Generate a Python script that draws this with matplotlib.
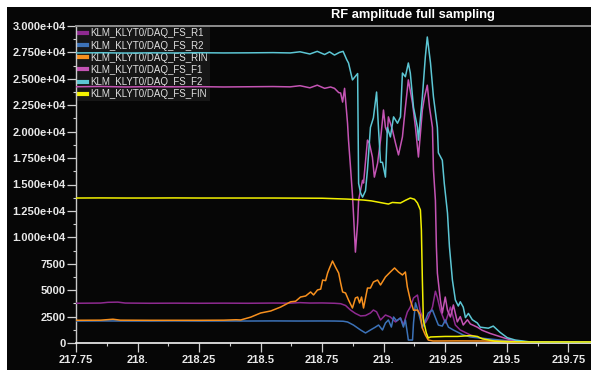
import matplotlib
matplotlib.use("Agg")
import matplotlib.pyplot as plt
from matplotlib.patches import Rectangle
from matplotlib.ticker import MultipleLocator, FuncFormatter

plt.rcParams['font.family'] = ['Liberation Sans', 'DejaVu Sans']

# ---- data (time in us, amplitude in counts) ----
t_r1 = [217.75, 217.85, 217.88, 217.92, 217.95, 218.05, 218.15, 218.25, 218.35, 218.45,
        218.55, 218.62, 218.66, 218.70, 218.75, 218.80, 218.825, 218.845, 218.865, 218.885,
        218.906, 218.926, 218.946, 218.958, 218.971, 218.987, 219.007, 219.027, 219.048, 219.068,
        219.080, 219.096, 219.108, 219.121, 219.137, 219.149, 219.169, 219.181, 219.198, 219.210,
        219.218, 219.230, 219.250, 219.271, 219.291, 219.311, 219.352, 219.392, 219.433, 219.473,
        219.55, 219.65, 219.84]
v_r1 = [3760, 3780, 3850, 3870, 3780, 3760, 3770, 3760, 3770, 3760,
        3780, 3770, 3820, 3780, 3790, 3760, 3720, 3550, 3120, 2800,
        2560, 2600, 2840, 3120, 2950, 2180, 2650, 2460, 1990, 2370,
        1700, 2930, 3400, 4260, 4540, 2930, 1900, 2400, 3400, 4900,
        4300, 3100, 1900, 3400, 1700, 1230, 760, 470, 300, 190,
        100, 80, 80]

t_r2 = [217.75, 217.85, 217.95, 218.05, 218.15, 218.25, 218.35, 218.45, 218.55, 218.65,
        218.75, 218.80, 218.835, 218.853, 218.877, 218.906, 218.926, 218.946, 218.966, 218.979,
        218.995, 219.007, 219.019, 219.031, 219.040, 219.052, 219.068, 219.080, 219.088, 219.096,
        219.100, 219.117, 219.121, 219.129, 219.141, 219.149, 219.157, 219.165, 219.181, 219.198,
        219.210, 219.222, 219.238, 219.250, 219.263, 219.283, 219.323, 219.352, 219.392, 219.473,
        219.55, 219.65, 219.84]
v_r2 = [2080, 2090, 2080, 2080, 2090, 2080, 2085, 2080, 2090, 2080,
        2085, 2080, 2060, 1990, 1700, 1230, 950, 1230, 1500, 1700,
        1230, 1890, 2180, 1510, 2460, 2100, 2370, 1510, 2180, 950,
        280, 280, 1900, 3800, 2900, 2180, 1420, 1900, 2840, 3120,
        2400, 1700, 1600, 2180, 1500, 1230, 760, 570, 470, 280,
        120, 80, 80]

t_rin = [217.75, 217.85, 217.90, 217.93, 218.05, 218.15, 218.25, 218.35, 218.40, 218.419,
         218.460, 218.500, 218.541, 218.581, 218.622, 218.642, 218.662, 218.683, 218.703, 218.715,
         218.731, 218.744, 218.752, 218.764, 218.772, 218.780, 218.792, 218.804, 218.817, 218.825,
         218.833, 218.845, 218.857, 218.873, 218.885, 218.894, 218.902, 218.910, 218.918, 218.934,
         218.946, 218.958, 218.975, 218.987, 219.007, 219.027, 219.044, 219.060, 219.076, 219.088,
         219.096, 219.108, 219.121, 219.137, 219.149, 219.157, 219.169, 219.181, 219.20, 219.30,
         219.40, 219.50, 219.60, 219.84]
v_rin = [2150, 2160, 2250, 2160, 2150, 2150, 2150, 2160, 2200, 2180,
         2450, 2840, 3030, 3400, 3900, 3950, 4350, 4450, 4830, 4550,
         5020, 5100, 5960, 5900, 6620, 7100, 7760, 7190, 6620, 5680,
         4830, 4730, 4070, 3310, 4260, 4350, 3790, 4350, 3310, 5200,
         5200, 5770, 5960, 5490, 6250, 6720, 7100, 6720, 6440, 6720,
         5300, 4070, 3100, 3120, 2650, 1420, 760, 280, 190, 200,
         190, 150, 100, 90]

t_f1 = [217.75, 217.85, 217.95, 218.05, 218.15, 218.25, 218.35, 218.45, 218.55, 218.62,
        218.66, 218.70, 218.73, 218.76, 218.784, 218.80, 218.817, 218.825, 218.833, 218.841,
        218.853, 218.857, 218.865, 218.873, 218.877, 218.885, 218.894, 218.898, 218.914, 218.918,
        218.934, 218.942, 218.954, 218.962, 218.975, 218.987, 218.999, 219.007, 219.015, 219.019,
        219.035, 219.048, 219.060, 219.076, 219.088, 219.100, 219.117, 219.129, 219.141, 219.157,
        219.165, 219.177, 219.186, 219.198, 219.202, 219.210, 219.214, 219.218, 219.230, 219.238,
        219.250, 219.259, 219.271, 219.283, 219.299, 219.311, 219.323, 219.340, 219.352, 219.380,
        219.400, 219.433, 219.473, 219.514, 219.555, 219.60, 219.75, 219.84]
v_f1 = [24250, 24280, 24230, 24260, 24240, 24260, 24230, 24250, 24270, 24240,
        24350, 24150, 24400, 24100, 24230, 24100, 23700, 23660, 22800, 24100,
        20800, 19200, 16660, 14000, 12300, 8600, 11360, 13530, 15400, 15140,
        19200, 18900, 17600, 15700, 17000, 19200, 22050, 20400, 19900, 21400,
        20200, 18900, 17800, 19500, 22300, 24900, 22700, 20400, 17600, 22050,
        23200, 24400, 22300, 20400, 16400, 13500, 9100, 6600, 4070, 2840,
        4350, 3100, 2460, 3600, 2000, 2500, 1700, 2200, 1800, 1500,
        1200, 900, 600, 300, 150, 80, 70, 70]

t_f2 = [217.75, 217.85, 217.95, 218.05, 218.15, 218.25, 218.35, 218.45, 218.55, 218.62,
        218.66, 218.70, 218.73, 218.76, 218.78, 218.80, 218.82, 218.835, 218.85, 218.857,
        218.873, 218.894, 218.898, 218.906, 218.914, 218.926, 218.934, 218.946, 218.958, 218.971,
        218.979, 218.987, 218.995, 219.007, 219.015, 219.027, 219.040, 219.056, 219.068, 219.076,
        219.088, 219.100, 219.108, 219.121, 219.137, 219.141, 219.157, 219.169, 219.177, 219.190,
        219.202, 219.218, 219.222, 219.238, 219.246, 219.259, 219.267, 219.279, 219.291, 219.303,
        219.311, 219.323, 219.332, 219.344, 219.360, 219.380, 219.392, 219.425, 219.445, 219.473,
        219.502, 219.534, 219.595, 219.65, 219.75, 219.84]
v_f2 = [27450, 27470, 27440, 27460, 27450, 27470, 27450, 27460, 27480, 27450,
        27560, 27350, 27600, 27300, 27550, 27250, 27500, 27600, 26800, 26500,
        24900, 25500, 15100, 14200, 13800, 14400, 16400, 20400, 21300, 23750,
        20200, 17100, 17100, 15700, 20400, 19500, 21400, 20800, 21400, 25550,
        25200, 26500, 25550, 22300, 20400, 19200, 23300, 27070, 28960, 26500,
        23300, 20400, 18000, 17300, 15100, 12300, 9100, 5960, 4070, 3500,
        3900, 3400, 2400, 2800, 2200, 1900, 1500, 1400, 1600, 1000,
        500, 280, 100, 80, 80, 80]

t_fin = [217.75, 217.85, 217.95, 218.05, 218.15, 218.25, 218.35, 218.45, 218.55, 218.65,
         218.75, 218.85, 218.918, 218.95, 219.019, 219.035, 219.068, 219.088, 219.108, 219.125,
         219.137, 219.149, 219.153, 219.157, 219.161, 219.173, 219.181, 219.190, 219.25, 219.30,
         219.35, 219.38, 219.40, 219.45, 219.50, 219.60, 219.84]
v_fin = [13720, 13730, 13720, 13720, 13730, 13720, 13720, 13720, 13720, 13710,
         13700, 13620, 13530, 13450, 13150, 13300, 13250, 13500, 13720, 13600,
         13250, 12590, 10700, 5960, 2180, 950, 470, 570, 620, 620,
         700, 620, 400, 180, 120, 100, 100]

names = ['KLM_KLYT0/DAQ_FS_R1', 'KLM_KLYT0/DAQ_FS_R2', 'KLM_KLYT0/DAQ_FS_RIN',
         'KLM_KLYT0/DAQ_FS_F1', 'KLM_KLYT0/DAQ_FS_F2', 'KLM_KLYT0/DAQ_FS_FIN']
colors = ['#8e2a90', '#3c72b8', '#f7901e', '#c454b4', '#5cc6d4', '#f2f000']
series = [(t_r1, v_r1), (t_r2, v_r2), (t_rin, v_rin), (t_f1, v_f1), (t_f2, v_f2), (t_fin, v_fin)]

W, H = 591, 370
fig = plt.figure(figsize=(W / 100, H / 100), dpi=100, facecolor='white')
# black panel with a thin white margin at top and left
fig.add_artist(Rectangle((7 / W, 0), 1 - 7 / W, 1 - 7 / H, transform=fig.transFigure,
                         facecolor='#060606', edgecolor='none', zorder=-10))

ax = fig.add_axes([76 / W, (H - 343) / H, (W - 76) / W, (343 - 26) / H])
ax.set_facecolor('#060606')

for (t, v), c, n in zip(series, colors, names):
    ax.plot(t, v, color=c, lw=1.1, label=n, zorder=3)

ax.set_xlim(217.75, 219.842)
ax.set_ylim(0, 30000)

ax.xaxis.set_major_locator(MultipleLocator(0.25))
ax.xaxis.set_minor_locator(MultipleLocator(0.125))
ax.yaxis.set_major_locator(MultipleLocator(2500))
ax.yaxis.set_minor_locator(MultipleLocator(1250))
ax.xaxis.set_major_formatter(FuncFormatter(lambda v, p: f"{v:.2f}".rstrip('0')))
ax.yaxis.set_major_formatter(FuncFormatter(lambda v, p: f"{int(round(v))}" if v < 10000 else f"{v:.3e}"))

ax.tick_params(which='major', length=6.5, width=0.9, color='#d0d0d0', pad=1,
               labelsize=8, labelcolor='#e8e8e8')
ax.tick_params(axis='x', which='major', pad=2)
ax.tick_params(which='minor', length=2.5, width=0.8, color='#d0d0d0')
for lab in ax.get_xticklabels() + ax.get_yticklabels():
    lab.set_fontweight('bold')

ax.spines['right'].set_visible(False)
ax.spines['top'].set_color('#8c8c8c')
ax.spines['top'].set_linewidth(1.4)
ax.spines['left'].set_color('#c8c8c8')
ax.spines['left'].set_linewidth(1.0)
ax.spines['bottom'].set_color('#f4f4f4')
ax.spines['bottom'].set_linewidth(1.2)

leg = ax.legend(loc='upper left', bbox_to_anchor=(0.0, 1.0), fontsize=7,
                handlelength=0.9, handletextpad=0.35, labelspacing=0.22,
                borderpad=0.2, borderaxespad=0.05, frameon=True,
                facecolor='#161616', edgecolor='none', framealpha=1.0, fancybox=False)
leg.set_zorder(1)
for line in leg.get_lines():
    line.set_linewidth(3)
for txt in leg.get_texts():
    txt.set_color('#e0e0e0')

fig.text(413 / W, 1 - 15 / H, 'RF amplitude full sampling', ha='center', va='center',
         fontsize=9.3, fontweight='bold', color='white')

fig.savefig('out.png', dpi=100, facecolor=fig.get_facecolor())
